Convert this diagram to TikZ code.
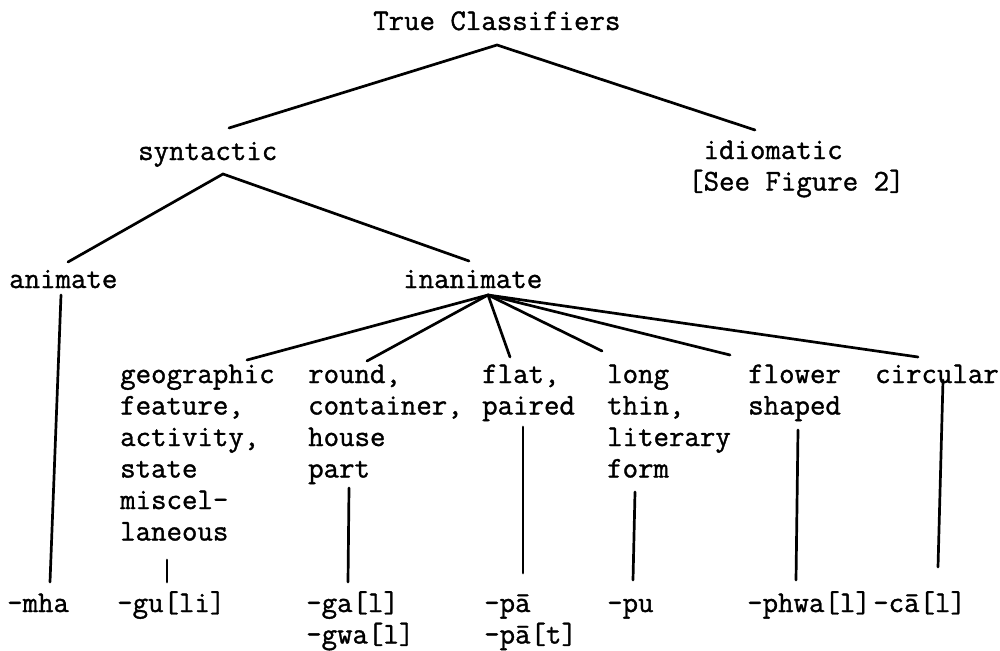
\documentclass[tikz,border=0pt]{standalone}
\usepackage{fontspec}
\newfontfamily\tw[FakeBold=1.2]{Latin Modern Mono}
\newcommand{\col}[1]{\begin{tabular}[t]{@{}l@{}}#1\end{tabular}}
\begin{document}
\begin{tikzpicture}[x=1pt,y=-1pt,
  lbl/.style={font=\tw\fontsize{30}{31.5}\selectfont, inner sep=0pt, anchor=base west},
  br/.style={line width=2.7pt, line cap=round}]
\useasboundingbox[fill=white] (0,0) rectangle (1000,650);
% labels
\node[lbl] (root) at (373,30) {True Classifiers};
\node[lbl] (syn) at (138,160) {syntactic};
\node[lbl] (idio) at (688,159) {\col{\hphantom{[}idiomatic\\{}[See Figure 2]}};
\node[lbl] (ani) at (9,288) {animate};
\node[lbl] (inan) at (403,288) {inanimate};
\node[lbl] (geo) at (120,383) {\col{geographic\\feature,\\activity,\\state\\miscel-\\laneous}};
\node[lbl] (round) at (308,383) {\col{round,\\container,\\house\\part}};
\node[lbl] (flat) at (482,383) {\col{flat,\\paired}};
\node[lbl] (long) at (607,383) {\col{long\\thin,\\literary\\form}};
\node[lbl] (flower) at (748,383) {\col{flower\\shaped}};
\node[lbl] (circ) at (875,383) {circular};
\node[lbl] (mha) at (7,612) {-mha};
\node[lbl] (gu) at (117,612) {-gu[li]};
\node[lbl] (ga) at (306,612) {\col{-ga[l]\\-gwa[l]}};
\node[lbl] (pa) at (484,612) {\col{-pā\\-pā[t]}};
\node[lbl] (pu) at (607,612) {-pu};
\node[lbl] (phwa) at (747,612) {-phwa[l]};
\node[lbl] (ca) at (873,612) {-cā[l]};
% connector end points
\coordinate (rootA) at (497,45);
\coordinate (synT) at (229,128);
\coordinate (idioT) at (755,130);
\coordinate (synA) at (223,174);
\coordinate (aniT) at (68,262);
\coordinate (inanT) at (469,261);
\coordinate (aniB) at (61,295);
\coordinate (mhaT) at (50,582);
\coordinate (inanA) at (488,295);
\coordinate (geoT) at (247,360);
\coordinate (roundT) at (367,361);
\coordinate (flatT) at (510,357);
\coordinate (longT) at (602,351);
\coordinate (flowerT) at (730,355);
\coordinate (circT) at (918,357);
\coordinate (geoB) at (167,560);
\coordinate (guT) at (167,582);
\coordinate (roundB) at (349,488);
\coordinate (gaT) at (348,582);
\coordinate (flatB) at (523,427);
\coordinate (paT) at (523,573);
\coordinate (longB) at (635,492);
\coordinate (puT) at (633,580);
\coordinate (flowerB) at (798,430);
\coordinate (phwaT) at (796,580);
\coordinate (circB) at (943,380);
\coordinate (caT) at (938,567);
% connectors
\draw[br] (synT) -- (rootA) -- (idioT);
\draw[br] (aniT) -- (synA) -- (inanT);
\draw[br] (aniB) -- (mhaT);
\foreach \t in {geoT,roundT,flatT,longT,flowerT,circT}
  \draw[br] (inanA) -- (\t);
\draw[br] (geoB) -- (guT);
\draw[br] (roundB) -- (gaT);
\draw[br] (flatB) -- (paT);
\draw[br] (longB) -- (puT);
\draw[br] (flowerB) -- (phwaT);
\draw[br] (circB) -- (caT);
\end{tikzpicture}
\end{document}
